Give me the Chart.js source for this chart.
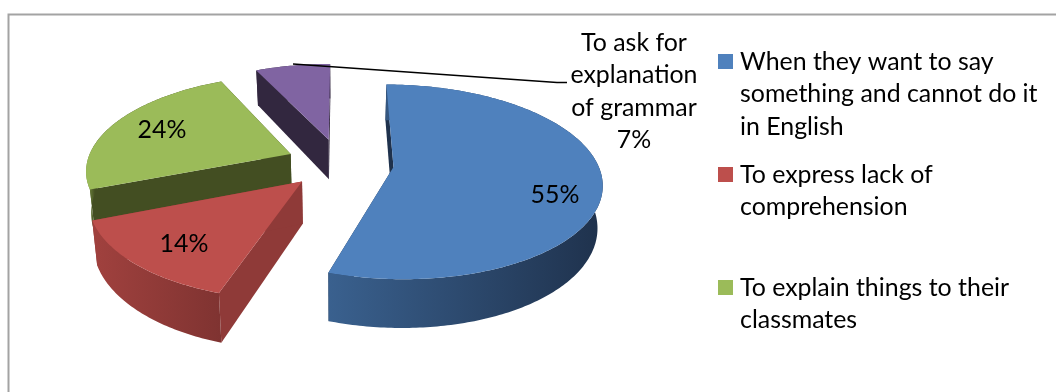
<!DOCTYPE html>
<html><head><meta charset="utf-8">
<script src="https://cdn.jsdelivr.net/npm/chart.js@4"></script>
<style>html,body{margin:0;padding:0;background:#fff}canvas{display:block}</style>
</head><body><canvas id="c" width="1056" height="392"></canvas>
<script>
const categories = ["When they want to say something and cannot do it in English","To express lack of comprehension","To explain things to their classmates","To ask for explanation of grammar"];
const values = [55,14,24,7];
const percentLabels = ["55%","14%","24%","7%"];
const colors = ["#4f81bd","#bd4f4c","#9bbb59","#8064a2"];
const legendLines = [["When they want to say","something and cannot do it","in English"],["To express lack of","comprehension"],["To explain things to their","classmates"]];
const calloutLines = ["To ask for","explanation","of grammar"];

const FONT = '24.9px Lato';
const VIEW = {radius:204, squash:0.46, persp:0.00075, depth:41, taper:0.02};
const SIDE = ["#1f324d","#8f3a38","#434e22","#32273f"];
const WALL = [["#3a618f","#1f324d",326,600],["#a0413e","#7f3331",95,222],["#7f9a48","#434e22",86,95],["#32273f","#32273f",256,330]];
const LABEL_AT = [[555,195],[184,244],[162,130]];
const DRAW_ORDER = [3,2,0,1];

const pie3d = {
  id:'pie3d',
  beforeDatasetDraw(chart){
    const ctx = chart.ctx, arcs = chart.getDatasetMeta(0).data;
    const s = VIEW.radius / arcs[0].outerRadius;
    const proj = (cx,cy,X,Y,z)=>{
      const w = 1/(1-VIEW.persp*Y);
      const t = 1 - VIEW.taper*z/VIEW.depth;
      return [cx + X*w*t, cy + VIEW.squash*Y*w + z*w];
    };
    ctx.save();
    DRAW_ORDER.forEach(i=>{
      const el = arcs[i], a0 = el.startAngle, a1 = el.endAngle, mid=(a0+a1)/2;
      const d = el.options.offset*s, R = el.outerRadius*s;
      const ax = d*Math.cos(mid), ay = d*Math.sin(mid);
      const P = (a,r,z)=>proj(el.x,el.y,ax+r*Math.cos(a),ay+r*Math.sin(a),z);
      const steps = Math.max(8,Math.ceil((a1-a0)/0.015));
      const rim = z=>{const o=[];for(let k=0;k<=steps;k++)o.push(P(a0+(a1-a0)*k/steps,R,z));return o;};
      const poly = (pts,fill)=>{ctx.beginPath();pts.forEach((p,k)=>k?ctx.lineTo(p[0],p[1]):ctx.moveTo(p[0],p[1]));ctx.closePath();ctx.fillStyle=fill;ctx.fill();};
      const apexT = P(0,0,0), apexB = P(0,0,VIEW.depth);
      const top = rim(0), bot = rim(VIEW.depth);
      poly([apexT,top[0],bot[0],apexB],SIDE[i]);
      poly([apexT,top[steps],bot[steps],apexB],SIDE[i]);
      const W = WALL[i], g = ctx.createLinearGradient(W[2],0,W[3],0);
      g.addColorStop(0,W[0]); g.addColorStop(1,W[1]);
      poly(top.concat(bot.slice().reverse()),g);
      poly([apexT].concat(top),el.options.backgroundColor);
    });
    ctx.restore();
    return false;
  },
  afterDraw(chart){
    const ctx = chart.ctx, data = chart.data;
    ctx.save();
    ctx.strokeStyle='#a3a3a3'; ctx.lineWidth=2;
    ctx.beginPath(); ctx.moveTo(8.5,392); ctx.lineTo(8.5,14.5); ctx.lineTo(1056,14.5); ctx.stroke();
    ctx.strokeStyle='#000'; ctx.lineWidth=1.5;
    ctx.beginPath(); ctx.moveTo(293,64); ctx.lineTo(557,82.5); ctx.lineTo(567,82.5); ctx.stroke();
    ctx.fillStyle='#000'; ctx.font=FONT; ctx.textBaseline='middle';
    ctx.textAlign='center';
    LABEL_AT.forEach((p,i)=>ctx.fillText(percentLabels[i],p[0],p[1]));
    calloutLines.concat(percentLabels[3]).forEach((t,i)=>ctx.fillText(t,634,42.5+i*32.5));
    ctx.textAlign='left';
    legendLines.forEach((lines,i)=>{
      const y0 = 61.5+i*113;
      ctx.fillStyle=colors[i]; ctx.fillRect(718,y0-7.5,15,15);
      ctx.fillStyle='#000';
      lines.forEach((t,j)=>ctx.fillText(t,740,y0+j*32.5));
    });
    ctx.restore();
  }
};

new Chart(document.getElementById('c'),{
  type:'pie',
  data:{labels:categories,datasets:[{data:values,backgroundColor:colors,borderWidth:0,offset:[38,38,38,38]}]},
  options:{
    responsive:false,animation:false,
    layout:{autoPadding:false,padding:{left:0,right:376,top:0,bottom:66}},
    plugins:{legend:{display:false},tooltip:{enabled:false}}
  },
  plugins:[pie3d]
});
</script></body></html>
